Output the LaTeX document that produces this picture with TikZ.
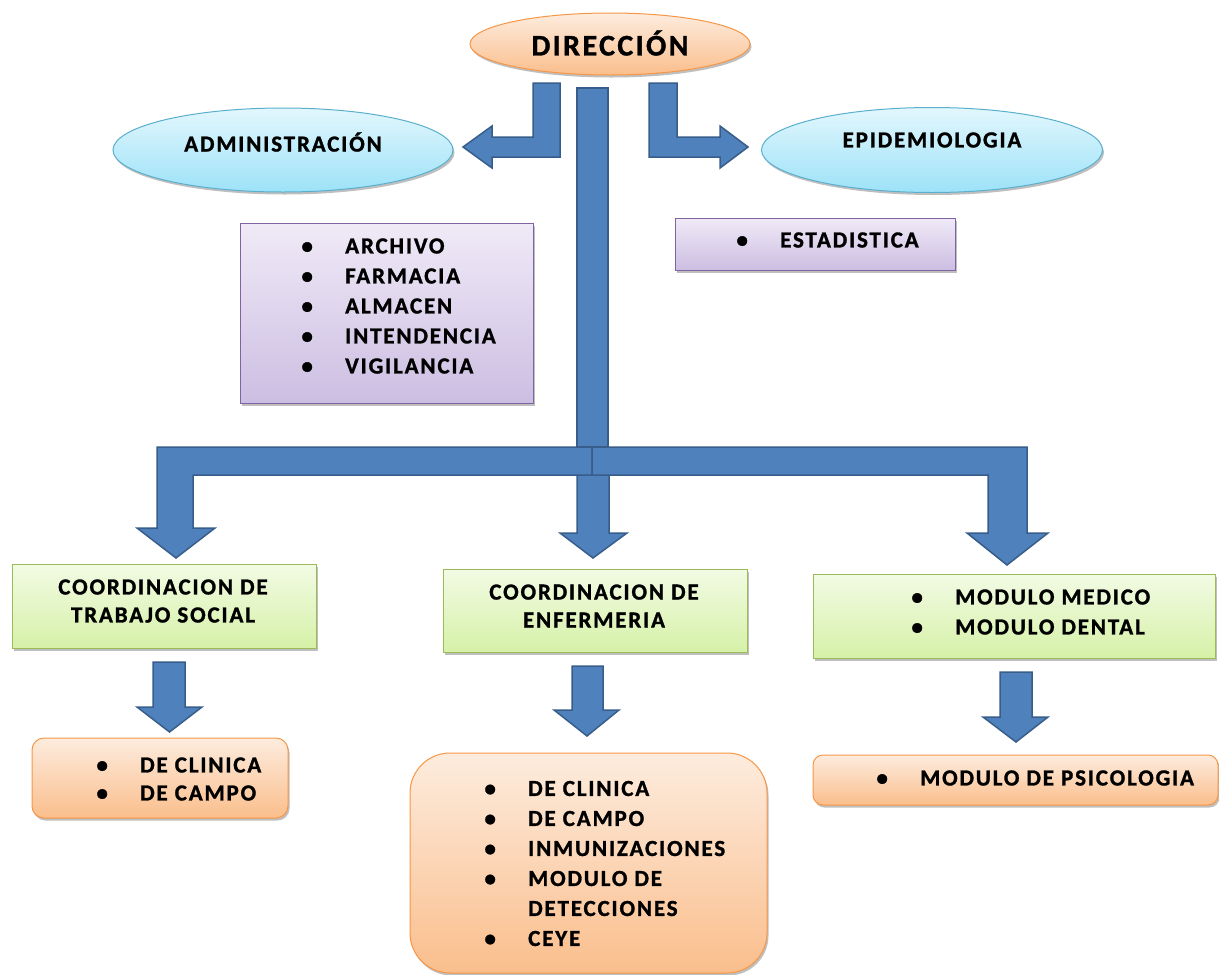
\documentclass[tikz,border=0pt]{standalone}
\usepackage{fontspec}
\setmainfont{Carlito}[LetterSpace=8, BoldFeatures={FakeBold=1.2}]
\usetikzlibrary{shapes.geometric,shadows}

\definecolor{arrowblue}{RGB}{79,129,189}
\definecolor{arrowedge}{RGB}{56,93,138}
\definecolor{cyantop}{RGB}{226,247,253}
\definecolor{cyanbot}{RGB}{157,226,248}
\definecolor{cyanedge}{RGB}{90,175,205}
\definecolor{orangetop}{RGB}{253,236,222}
\definecolor{orangebot}{RGB}{250,190,140}
\definecolor{orangeedge}{RGB}{247,150,70}
\definecolor{purpletop}{RGB}{240,234,247}
\definecolor{purplebot}{RGB}{204,190,226}
\definecolor{purpleedge}{RGB}{128,100,162}
\definecolor{greentop}{RGB}{242,251,228}
\definecolor{greenbot}{RGB}{214,241,168}
\definecolor{greenedge}{RGB}{155,187,89}

\newcommand{\orgitem}{\makebox[0pt]{\textbullet}\hspace{38pt}}

\tikzset{
  blockarrow/.style={fill=arrowblue, draw=arrowedge, line width=1.5pt, line join=miter},
  boxshadow/.style={drop shadow={shadow xshift=1.5pt, shadow yshift=-2.5pt, opacity=0.25, fill=black}},
  ovalcyan/.style={ellipse, draw=cyanedge, line width=1pt, top color=cyantop, bottom color=cyanbot, inner sep=0pt, boxshadow},
  ovalorange/.style={ellipse, draw=orangeedge, line width=1pt, top color=orangetop, bottom color=orangebot, inner sep=0pt, boxshadow},
  purplebox/.style={rectangle, draw=purpleedge, line width=1pt, top color=purpletop, bottom color=purplebot, inner sep=0pt, boxshadow},
  greenbox/.style={rectangle, draw=greenedge, line width=1pt, top color=greentop, bottom color=greenbot, inner sep=0pt, boxshadow},
  orangebox/.style={rectangle, draw=orangeedge, line width=1pt, top color=orangetop, bottom color=orangebot, inner sep=0pt, boxshadow},
  itemtext/.style={font=\bfseries\fontsize{23}{30}\selectfont, align=left, inner sep=0pt, anchor=west},
  titletext/.style={font=\bfseries\fontsize{23}{28}\selectfont, align=center, inner sep=0pt}
}

\begin{document}
\begin{tikzpicture}[x=1pt,y=-1pt]
\useasboundingbox (0,0) rectangle (1219,975);

%Shape: Ellipse [direccion]
\node [ovalorange, minimum width=280pt, minimum height=62pt] (dir) at (610,44) {};
\node [font=\bfseries\fontsize{30}{34}\selectfont, inner sep=0pt] (dirtxt) at (610,43) {DIRECCIÓN};

%Shape: Ellipse [administracion]
\node [ovalcyan, minimum width=340pt, minimum height=84pt] (adm) at (283,150) {};
\node [titletext] (admtxt) at (283,142) {ADMINISTRACIÓN};

%Shape: Ellipse [epidemiologia]
\node [ovalcyan, minimum width=341pt, minimum height=85pt] (epi) at (932,150) {};
\node [titletext] (epitxt) at (932,140) {EPIDEMIOLOGIA};

%Shape: Rectangle [administracion list]
\node [purplebox, minimum width=293pt, minimum height=180pt] (admbox) at (386.5,313) {};
\node [itemtext] (admlist) at (307,306) {\orgitem ARCHIVO\\ \orgitem FARMACIA\\ \orgitem ALMACEN\\ \orgitem INTENDENCIA\\ \orgitem VIGILANCIA};

%Shape: Rectangle [estadistica]
\node [purplebox, minimum width=280pt, minimum height=52pt] (estbox) at (815,244) {};
\node [itemtext] (est) at (742,240) {\orgitem ESTADISTICA};

%Shape: Bent Arrow [to administracion]
\draw [blockarrow] (560,83) -- (560,157) -- (492,157) -- (492,168) -- (463,147) -- (492,126) -- (492,137) -- (533,137) -- (533,83) -- cycle ;
%Shape: Bent Arrow [to epidemiologia]
\draw [blockarrow] (649,83) -- (677,83) -- (677,137) -- (720,137) -- (720,126) -- (748,147) -- (720,168) -- (720,157) -- (649,157) -- cycle ;

%Shape: Rectangle [trunk]
\draw [blockarrow] (577,88) rectangle (608,447) ;
%Shape: Down Arrow [center]
\draw [blockarrow] (577,475) -- (609,475) -- (609,533) -- (627,533) -- (593,558) -- (560,533) -- (577,533) -- cycle ;
%Shape: Bent Arrow [left branch]
\draw [blockarrow] (592,447) -- (157,447) -- (157,528) -- (137,528) -- (176,558) -- (215,528) -- (193,528) -- (193,475) -- (592,475) -- cycle ;
%Shape: Bent Arrow [right branch]
\draw [blockarrow] (592,447) -- (1027,447) -- (1027,533) -- (1048,533) -- (1007,565) -- (967,533) -- (988,533) -- (988,475) -- (592,475) -- cycle ;

%Shape: Rectangle [trabajo social]
\node [greenbox, minimum width=304pt, minimum height=84pt] (cts) at (164,606) {};
\node [titletext] (ctstxt) at (163,601) {COORDINACION DE\\TRABAJO SOCIAL};

%Shape: Rectangle [enfermeria]
\node [greenbox, minimum width=304pt, minimum height=83pt] (cenf) at (595,610.5) {};
\node [titletext] (cenftxt) at (594,606) {COORDINACION DE\\ENFERMERIA};

%Shape: Rectangle [modulos]
\node [greenbox, minimum width=402pt, minimum height=84pt] (cmod) at (1014,616) {};
\node [itemtext] (cmodlist) at (917,612) {\orgitem MODULO MEDICO\\ \orgitem MODULO DENTAL};

%Shape: Down Arrow [trabajo social]
\draw [blockarrow] (153,662) -- (185,662) -- (185,707) -- (202,707) -- (169.5,732) -- (137,707) -- (153,707) -- cycle ;
%Shape: Down Arrow [enfermeria]
\draw [blockarrow] (572,666) -- (603,666) -- (603,710) -- (619,710) -- (587,736) -- (554,710) -- (572,710) -- cycle ;
%Shape: Down Arrow [modulos]
\draw [blockarrow] (1000,672) -- (1032,672) -- (1032,717) -- (1048,717) -- (1016,742) -- (983,717) -- (1000,717) -- cycle ;

%Shape: Rounded Rectangle [trabajo social list]
\node [orangebox, rounded corners=12pt, minimum width=256pt, minimum height=80pt] (tsbox) at (160,778) {};
\node [itemtext, font=\bfseries\fontsize{23}{28}\selectfont] (tslist) at (102,779) {\orgitem DE CLINICA\\ \orgitem DE CAMPO};

%Shape: Rounded Rectangle [enfermeria list]
\node [orangebox, rounded corners=40pt, minimum width=357pt, minimum height=220pt] (enfbox) at (588.5,863) {};
\node [itemtext] (enflist) at (490,863.5) {\orgitem DE CLINICA\\ \orgitem DE CAMPO\\ \orgitem INMUNIZACIONES\\ \orgitem MODULO DE\\ \hspace*{38pt}DETECCIONES\\ \orgitem CEYE};

%Shape: Rounded Rectangle [psicologia]
\node [orangebox, rounded corners=10pt, minimum width=405pt, minimum height=50pt] (psicobox) at (1015.5,780) {};
\node [itemtext] (psico) at (882,778) {\orgitem MODULO DE PSICOLOGIA};

\end{tikzpicture}
\end{document}
